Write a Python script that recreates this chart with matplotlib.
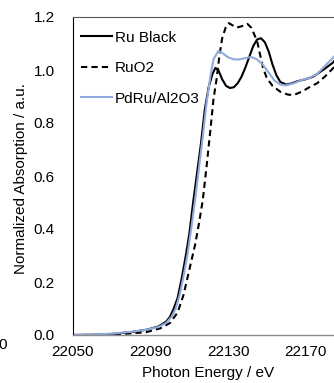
import matplotlib
matplotlib.use("Agg")
import matplotlib.pyplot as plt

plt.rcParams['font.family'] = ['Liberation Sans', 'DejaVu Sans']

# Ru Black
ru_e = [22050, 22060, 22070, 22080, 22088, 22094, 22098, 22100, 22102, 22104,
        22106, 22108, 22110, 22112, 22114, 22116, 22118, 22120, 22122, 22123.5,
        22125, 22127, 22129, 22131, 22133, 22135, 22137, 22139, 22141, 22143,
        22145, 22147, 22149, 22151, 22153, 22155, 22157, 22160, 22163, 22166,
        22170, 22174, 22177, 22180, 22184, 22188]
ru_v = [0.000, 0.001, 0.004, 0.011, 0.020, 0.032, 0.050, 0.068, 0.100, 0.140,
        0.210, 0.290, 0.380, 0.500, 0.610, 0.720, 0.850, 0.935, 0.985, 1.008,
        1.000, 0.965, 0.940, 0.932, 0.935, 0.950, 0.975, 1.010, 1.050, 1.090,
        1.115, 1.120, 1.105, 1.070, 1.020, 0.980, 0.955, 0.945, 0.950, 0.958,
        0.965, 0.975, 0.990, 1.005, 1.027, 1.060]

# RuO2
ruo2_e = [22050, 22060, 22070, 22080, 22088, 22095, 22100, 22104, 22107, 22110,
          22113, 22115, 22117, 22119, 22121, 22122.5, 22124, 22125.5, 22127, 22129,
          22130.5, 22132, 22134.5, 22137, 22140, 22142, 22145, 22148, 22150, 22153,
          22157, 22161, 22164, 22168, 22172, 22176, 22180, 22184, 22188]
ruo2_v = [0.000, 0.000, 0.002, 0.006, 0.011, 0.025, 0.045, 0.085, 0.150, 0.245,
          0.340, 0.420, 0.510, 0.640, 0.780, 0.890, 0.960, 1.050, 1.120, 1.165,
          1.177, 1.170, 1.160, 1.165, 1.174, 1.160, 1.110, 1.010, 0.970, 0.940,
          0.918, 0.907, 0.906, 0.918, 0.935, 0.950, 0.975, 1.005, 1.040]

# PdRu/Al2O3
pdru_e = [22050, 22060, 22070, 22080, 22088, 22094, 22098, 22101, 22103, 22105,
          22107, 22109, 22111, 22113, 22115, 22117, 22119, 22121, 22122.5, 22125,
          22127, 22130, 22133, 22136, 22139, 22142, 22145, 22148, 22151, 22154,
          22157, 22160, 22164, 22168, 22172, 22176, 22180, 22184, 22188]
pdru_v = [0.000, 0.002, 0.005, 0.012, 0.020, 0.030, 0.045, 0.070, 0.100, 0.150,
          0.220, 0.300, 0.400, 0.510, 0.630, 0.750, 0.880, 0.980, 1.040, 1.072,
          1.065, 1.048, 1.040, 1.040, 1.045, 1.049, 1.040, 1.020, 0.990, 0.960,
          0.945, 0.942, 0.950, 0.962, 0.970, 0.985, 1.015, 1.045, 1.075]

x_ticks = [22050, 22090, 22130, 22170]
y_ticks = [0.0, 0.2, 0.4, 0.6, 0.8, 1.0, 1.2]

fig = plt.figure(figsize=(3.34, 3.83), dpi=100)
# axes run past the right edge (the original figure is cropped there)
ax = fig.add_axes([73/334, 48/383, 310/334, 318/383])

ax.plot(ru_e, ru_v, color='black', lw=1.5, label='Ru Black')
ax.plot(ruo2_e, ruo2_v, color='black', lw=1.5, ls=(0, (3, 2)), label='RuO2')
ax.plot(pdru_e, pdru_v, color='#8FAADC', lw=1.5, label='PdRu/Al2O3')

ax.set_xlim(22050, 22210)
ax.set_ylim(0, 1.2)
ax.set_xticks(x_ticks)
ax.set_yticks(y_ticks)
ax.set_yticklabels(['%.1f' % v for v in y_ticks])
ax.tick_params(axis='y', length=0, pad=13, labelsize=11)
ax.tick_params(axis='x', length=0, pad=7, labelsize=11)

ax.spines['left'].set_color('black')
ax.spines['left'].set_linewidth(0.8)
ax.spines['bottom'].set_color('#8c8c8c')
ax.spines['bottom'].set_linewidth(1.0)
ax.spines['top'].set_color('#595959')
ax.spines['top'].set_linewidth(0.8)
ax.spines['right'].set_visible(False)

ax.legend(loc='upper left', bbox_to_anchor=(0, 0.981), frameon=False, fontsize=11,
          borderaxespad=0.1, handlelength=2.05, handletextpad=0.2, labelspacing=1.08)

fig.text(208/334, 1 - 373/383, 'Photon Energy / eV', ha='center', va='center', fontsize=11)
fig.text(21/334, 1 - 179/383, 'Normalized Absorption / a.u.', ha='center', va='center',
         rotation=90, fontsize=11)
# stray tick label from a neighbouring panel, cut by the crop
fig.text(7/334, 1 - 345/383, '0', ha='right', va='center', fontsize=11)

fig.savefig('out.png', dpi=100)
